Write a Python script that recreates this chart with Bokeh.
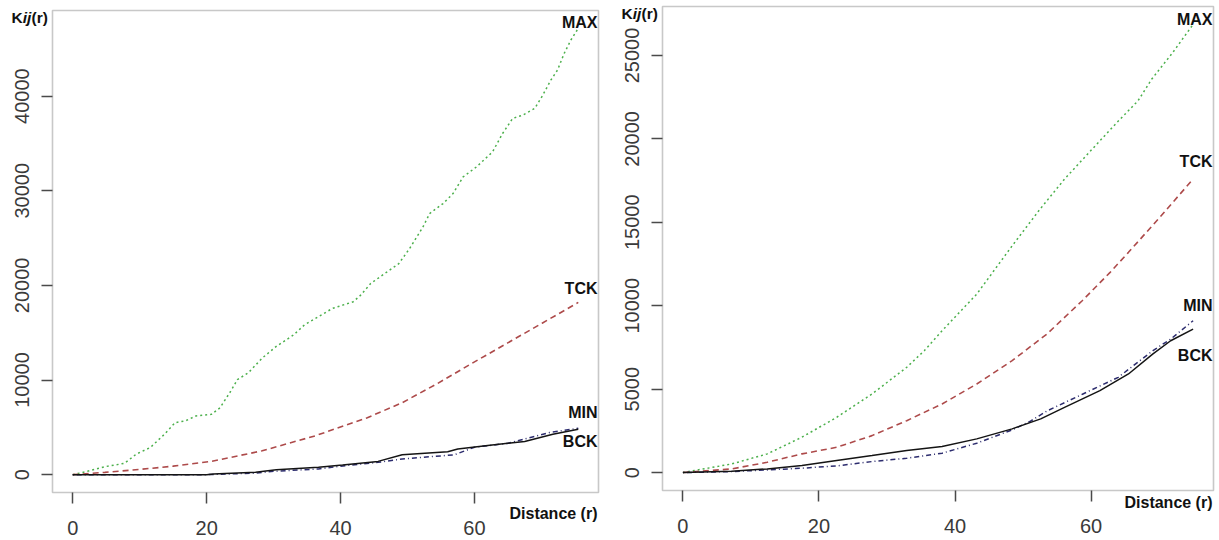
from bokeh.plotting import figure
from bokeh.layouts import row
from bokeh.models import Range1d, FixedTicker, Label, ColumnDataSource, LinearAxis, BoxAnnotation
from bokeh.core.properties import value
from bokeh.embed import file_html
from bokeh.resources import INLINE

# ---------------- data ----------------
series_names = ["MAX", "TCK", "MIN", "BCK"]
x_ticks = [0, 20, 40, 60]
left_y_ticks = [0, 10000, 20000, 30000, 40000]
right_y_ticks = [0, 5000, 10000, 15000, 20000, 25000]

# left panel
l_max_r = [0, 2.2, 4.8, 7.7, 9.5, 11.6, 13.7, 15.3, 16.8, 18.4, 20.7, 22.0, 23.6, 24.6, 26.2, 28.3,
           30.4, 33.0, 34.6, 36.7, 38.8, 41.9, 43.0, 44.5, 46.6, 48.7, 50.3, 52.3, 53.3, 55.3, 56.8,
           58.3, 60.3, 62.7, 64.2, 65.7, 67.2, 69.0, 70.2, 71.4, 72.4, 73.4, 74.4, 75.5]
l_max_k = [0, 350, 840, 1190, 2170, 2870, 4270, 5500, 5670, 6200, 6370, 7070, 8820, 10050, 10750, 12320,
           13550, 14770, 15820, 16700, 17570, 18270, 18970, 20200, 21250, 22300, 23880, 26170, 27590, 28640, 29700,
           31460, 32520, 34110, 36050, 37640, 37990, 38700, 40100, 41690, 42750, 44520, 45930, 47160]
l_tck_r = [0, 4.8, 10, 15, 20.7, 28.3, 36.2, 44, 49.2, 54.4, 59.6, 64.9, 70.1, 75.5]
l_tck_k = [0, 245, 550, 900, 1400, 2520, 4100, 6020, 7600, 9600, 11750, 13900, 16000, 18200]
l_min_r = [0, 20, 27, 30, 36.7, 40, 45.6, 49.2, 57, 60, 64.9, 71.2, 75.5]
l_min_k = [0, 0, 150, 350, 600, 900, 1300, 1650, 2100, 2900, 3300, 4450, 4900]
l_bck_r = [0, 20, 21, 27.3, 30.4, 36.7, 40.3, 45.6, 49.2, 56, 57.5, 62.3, 67.5, 71.7, 75.5]
l_bck_k = [0, 0, 70, 245, 525, 770, 1015, 1400, 2100, 2415, 2700, 3115, 3500, 4270, 4800]

# right panel
r_max_r = [0, 7.2, 12.4, 17.5, 22.6, 27.8, 32.9, 35.5, 38.1, 43.2, 48.4, 52.5, 56.1, 59.7, 63.8, 66.9, 68.9, 72.0, 75]
r_max_k = [0, 520, 1120, 2120, 3310, 4710, 6310, 7310, 8500, 10700, 13590, 15790, 17590, 19180, 20980, 22280,
           23570, 25170, 26860]
r_tck_r = [0, 7.2, 12.4, 17.5, 22.6, 27.8, 32.9, 38.1, 43.2, 48.4, 53.5, 58.7, 62.8, 65.5, 70.0, 75]
r_tck_k = [0, 220, 620, 1120, 1515, 2215, 3110, 4110, 5310, 6710, 8300, 10300, 12000, 13200, 15250, 17590]
r_min_r = [0, 7.2, 12.4, 17.5, 22.6, 27.8, 32.9, 38.1, 43.2, 48.4, 51, 53.6, 58.8, 64, 69.1, 71.7, 75]
r_min_k = [0, 60, 160, 260, 400, 660, 860, 1160, 1760, 2560, 3060, 3710, 4710, 5710, 7310, 8000, 9100]
r_bck_r = [0, 7.2, 12.4, 17.5, 22.6, 27.8, 32.9, 38.1, 43.2, 48.4, 52.6, 56.1, 61.3, 65.5, 69.1, 71.7, 75]
r_bck_k = [0, 80, 220, 420, 720, 1020, 1320, 1560, 2020, 2620, 3220, 3910, 4910, 5910, 7110, 7900, 8600]

# ---------------- styles / layout ----------------
FONT = "Liberation Sans"
STYLE = {
    "MAX": dict(line_color="#4cb04c", line_dash="2 3", line_width=1.5),
    "TCK": dict(line_color="#ad4a4a", line_dash="6 4", line_width=1.6),
    "MIN": dict(line_color="#2c2c6e", line_dash="1 3 5 3", line_width=1.5),
    "BCK": dict(line_color="#141414", line_dash="solid", line_width=1.5),
}
# canvas size and the R plot box inside it, in pixels
LEFT_LAYOUT = dict(w=618, h=540, left=52, right=598, top=10, bottom=492)
RIGHT_LAYOUT = dict(w=601, h=540, left=44, right=595, top=6, bottom=490)


def padded(vals):
    lo, hi = min(vals), max(vals)
    pad = 0.04 * (hi - lo)
    return lo - pad, hi + pad


def panel(data, y_ticks, label_offsets, dist_offset, lay):
    xb0, xb1 = padded([v for r, _ in data.values() for v in r])
    yb0, yb1 = padded([v for _, k in data.values() for v in k])
    sx = (xb1 - xb0) / (lay["right"] - lay["left"])
    sy = (yb1 - yb0) / (lay["bottom"] - lay["top"])
    xr = Range1d(xb0 - lay["left"] * sx, xb1 + (lay["w"] - lay["right"]) * sx)
    yr = Range1d(yb0 - (lay["h"] - lay["bottom"]) * sy, yb1 + lay["top"] * sy)

    p = figure(frame_width=lay["w"], frame_height=lay["h"], x_range=xr, y_range=yr,
               min_border=0, x_axis_location=None, y_axis_location=None,
               output_backend="svg", toolbar_location=None,
               background_fill_color="white", border_fill_color="white")
    p.outline_line_color = None
    p.grid.visible = False

    xaxis = LinearAxis(fixed_location=yb0, ticker=FixedTicker(ticks=x_ticks))
    yaxis = LinearAxis(fixed_location=xb0, ticker=FixedTicker(ticks=y_ticks))
    for ax in (xaxis, yaxis):
        ax.axis_line_color = None
        ax.major_tick_line_color = "#4a4a4a"
        ax.major_tick_line_width = 1.5
        ax.major_tick_out = 11
        ax.major_tick_in = 0
        ax.minor_tick_line_color = None
        ax.major_label_text_font = FONT
        ax.major_label_text_font_size = "20px"
        ax.major_label_text_color = "#3a3a3a"
    xaxis.major_label_standoff = 17
    yaxis.major_label_standoff = 12
    yaxis.major_label_orientation = "vertical"
    p.add_layout(xaxis, "below")
    p.add_layout(yaxis, "left")

    # the R plot box
    p.add_layout(BoxAnnotation(left=xb0, right=xb1, bottom=yb0, top=yb1, fill_color=None,
                               line_color="#4a4a4a", line_width=1.6))

    for name in series_names:
        r, k = data[name]
        p.line(r, k, **STYLE[name])

    src = ColumnDataSource(dict(
        x=[xb1] * len(series_names),
        y=[data[n][1][-1] for n in series_names],
        t=series_names,
        dy=[label_offsets[n] for n in series_names],
    ))
    p.text(x="x", y="y", text="t", y_offset="dy", x_offset=-1, source=src,
           text_align="right", text_baseline="middle", text_font=value(FONT),
           text_font_style="bold", text_font_size="16px", text_color="#111111")

    p.add_layout(Label(x=xb1, y=yb0, text="Distance (r)", x_offset=-1, y_offset=dist_offset,
                       text_align="right", text_baseline="middle", text_font=FONT,
                       text_font_style="bold", text_font_size="16px", text_color="#111111"))
    pieces = [("K", "bold", 0), ("ij", "bold italic", 11.2), ("(r)", "bold", 20.1)]
    for txt, style, dx in pieces:
        p.add_layout(Label(x=xb0, y=yb1, text=txt, x_offset=-41 + dx, y_offset=-7,
                           text_align="left", text_baseline="middle", text_font=FONT,
                           text_font_style=style, text_font_size="15.5px", text_color="#111111"))
    return p


left_data = {"MAX": (l_max_r, l_max_k), "TCK": (l_tck_r, l_tck_k),
             "MIN": (l_min_r, l_min_k), "BCK": (l_bck_r, l_bck_k)}
right_data = {"MAX": (r_max_r, r_max_k), "TCK": (r_tck_r, r_tck_k),
              "MIN": (r_min_r, r_min_k), "BCK": (r_bck_r, r_bck_k)}

p1 = panel(left_data, left_y_ticks, {"MAX": -6, "TCK": -14, "MIN": -16, "BCK": 12}, -21, LEFT_LAYOUT)
p2 = panel(right_data, right_y_ticks, {"MAX": -5, "TCK": -18, "MIN": -15, "BCK": 26}, -12, RIGHT_LAYOUT)

layout = row(p1, p2)
open("out.html", "w").write(file_html(layout, INLINE))
